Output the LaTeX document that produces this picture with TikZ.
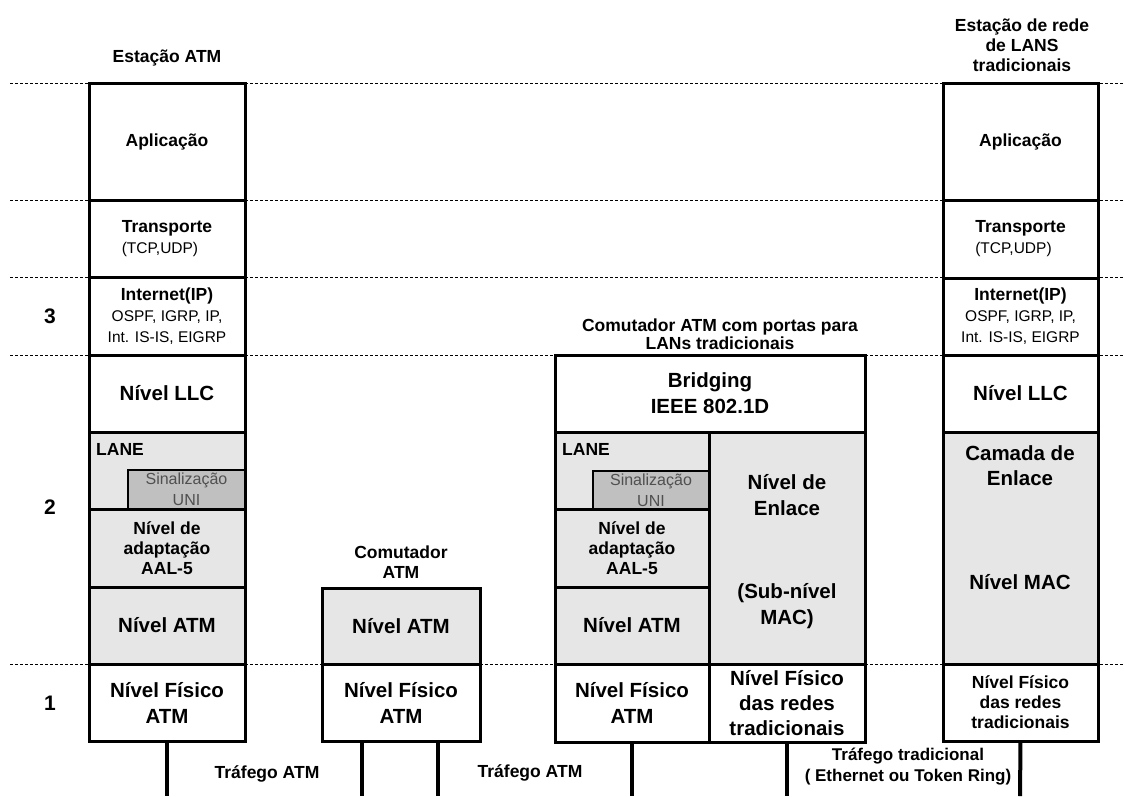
\documentclass[tikz,border=0pt]{standalone}
\usepackage{fontspec}
\setmainfont{Liberation Sans}
\usetikzlibrary{positioning, calc}
\definecolor{lanegray}{HTML}{E6E6E6}
\definecolor{unigray}{HTML}{C0C0C0}
\definecolor{unitext}{HTML}{505050}

\tikzset{
  layer/.style={draw, fill=white, line width=3pt, inner sep=0pt, outer sep=0pt, anchor=north west, align=center},
  shaded/.style={layer, fill=lanegray},
  unibox/.style={layer, fill=unigray, line width=1.5pt, text=unitext, font=\fontsize{16}{21}\selectfont},
  big/.style={align=center, font=\fontsize{20.5}{26}\selectfont\bfseries},
  mid/.style={align=center, font=\fontsize{17.5}{20}\selectfont\bfseries},
  small/.style={align=center, font=\fontsize{15.5}{21}\selectfont},
  levelnum/.style={font=\fontsize{21}{24}\selectfont\bfseries},
  levelline/.style={dash pattern=on 3pt off 2pt, line width=1pt},
  wire/.style={line width=4pt},
}

\begin{document}
\begin{tikzpicture}[x=1pt, y=-1pt]
  \useasboundingbox[fill=white] (0,0) rectangle (1124,796);

  % Level separators
  \foreach \ylev in {83, 200, 277, 355, 664} {
    \draw[levelline] (10,\ylev) -- (1124,\ylev);
  }

  % Level numbers
  \node[levelnum] (lvlthree) at (50,316) {3};
  \node[levelnum] (lvltwo) at (50,507) {2};
  \node[levelnum] (lvlone) at (50,703) {1};

  % Estacao ATM (left column)
  \node[mid] (titA) at (167,58) {Estação ATM};
  \node[layer, mid, minimum width=156pt, minimum height=117pt] (appA) at (89,83) {Aplicação};
  \node[layer, small, align=left, minimum width=156pt, minimum height=77pt] (trpA) at (89,200)
    {\textbf{\fontsize{17.5}{22}\selectfont Transporte}\\(TCP,UDP)};
  \node[layer, small, minimum width=156pt, minimum height=78pt] (netA) at (89,277)
    {\textbf{\fontsize{17.5}{21}\selectfont Internet(IP)}\\OSPF, IGRP, IP,\\Int. IS-IS, EIGRP};
  \node[layer, big, minimum width=156pt, minimum height=77pt] (llcA) at (89,355) {Nível LLC};
  \node[shaded, minimum width=156pt, minimum height=77pt] (laneA) at (89,432) {};
  \node[mid, anchor=west, inner sep=0pt] (laneAtxt) at (96,449) {LANE};
  \node[unibox, minimum width=117pt, minimum height=39pt] (uniA) at (128,470) {Sinalização\\UNI};
  \node[shaded, mid, minimum width=156pt, minimum height=78pt] (aalA) at (89,509) {Nível de\\adaptação\\AAL-5};
  \node[shaded, big, minimum width=156pt, minimum height=77pt] (atmA) at (89,587) {Nível ATM};
  \node[layer, big, minimum width=156pt, minimum height=77pt] (phyA) at (89,664) {Nível Físico\\ATM};

  % Comutador ATM (middle)
  \node[mid] (titB) at (401,562) {Comutador\\ATM};
  \node[shaded, big, minimum width=158pt, minimum height=76pt] (atmB) at (322,588) {Nível ATM};
  \node[layer, big, minimum width=158pt, minimum height=77pt] (phyB) at (322,664) {Nível Físico\\ATM};

  % Comutador ATM com portas para LANs tradicionais
  \node[mid, font=\fontsize{17.5}{18}\selectfont\bfseries] (titC) at (720,334) {Comutador ATM com portas para\\LANs tradicionais};
  \node[layer, big, minimum width=310pt, minimum height=77pt] (brgC) at (555,355) {Bridging\\IEEE 802.1D};
  \node[shaded, minimum width=154pt, minimum height=77pt] (laneC) at (555,432) {};
  \node[mid, anchor=west, inner sep=0pt] (laneCtxt) at (562,449) {LANE};
  \node[unibox, minimum width=116pt, minimum height=38pt] (uniC) at (593,471) {Sinalização\\UNI};
  \node[shaded, mid, minimum width=154pt, minimum height=78pt] (aalC) at (555,509) {Nível de\\adaptação\\AAL-5};
  \node[shaded, big, minimum width=154pt, minimum height=77pt] (atmC) at (555,587) {Nível ATM};
  \node[layer, big, minimum width=154pt, minimum height=78pt] (phyC) at (555,664) {Nível Físico\\ATM};
  \node[shaded, minimum width=156pt, minimum height=232pt] (macC) at (709,432) {};
  \node[big] (encCtxt) at (787,495) {Nível de\\Enlace};
  \node[big] (subCtxt) at (787,606) {(Sub-nível\\MAC)};
  \node[layer, big, font=\fontsize{20.5}{25}\selectfont\bfseries, minimum width=156pt, minimum height=78pt] (trdC) at (709,664)
    {Nível Físico\\das redes\\tradicionais};

  % Estacao de rede de LANS tradicionais (right column)
  \node[mid] (titD) at (1022,45) {Estação de rede\\de LANS\\tradicionais};
  \node[layer, mid, minimum width=155pt, minimum height=117pt] (appD) at (943,83) {Aplicação};
  \node[layer, small, align=left, minimum width=155pt, minimum height=78pt] (trpD) at (943,200)
    {\textbf{\fontsize{17.5}{22}\selectfont Transporte}\\(TCP,UDP)};
  \node[layer, small, minimum width=155pt, minimum height=77pt] (netD) at (943,278)
    {\textbf{\fontsize{17.5}{21}\selectfont Internet(IP)}\\OSPF, IGRP, IP,\\Int. IS-IS, EIGRP};
  \node[layer, big, minimum width=155pt, minimum height=77pt] (llcD) at (943,355) {Nível LLC};
  \node[shaded, minimum width=155pt, minimum height=232pt] (encD) at (943,432) {};
  \node[big, font=\fontsize{20.5}{25}\selectfont\bfseries] (camDtxt) at (1020,466) {Camada de\\Enlace};
  \node[big] (macDtxt) at (1020,582) {Nível MAC};
  \node[layer, mid, minimum width=155pt, minimum height=77pt] (phyD) at (943,664) {Nível Físico\\das redes\\tradicionais};

  % Traffic lines
  \coordinate (endA) at (167,796);
  \coordinate (endBl) at (362,796);
  \coordinate (endBr) at (438,796);
  \coordinate (endC) at (632,796);
  \coordinate (endT) at (787,796);
  \coordinate (endD) at (1020,796);
  \draw[wire] (phyA.south) -- (endA);
  \draw[wire] ([xshift=-39pt]phyB.south) -- (endBl);
  \draw[wire] ([xshift=37pt]phyB.south) -- (endBr);
  \draw[wire] (phyC.south) -- (endC);
  \draw[wire] (trdC.south) -- (endT);

  \node[mid] (trfAB) at (267,774) {Tráfego ATM};
  \node[mid] (trfBC) at (530,773) {Tráfego ATM};
  \node[mid, font=\fontsize{17}{21}\selectfont\bfseries] (trfTD) at (908,767) {Tráfego tradicional\\( Ethernet ou Token Ring)};
  \draw[wire] (phyD.south) -- (endD);
\end{tikzpicture}
\end{document}
